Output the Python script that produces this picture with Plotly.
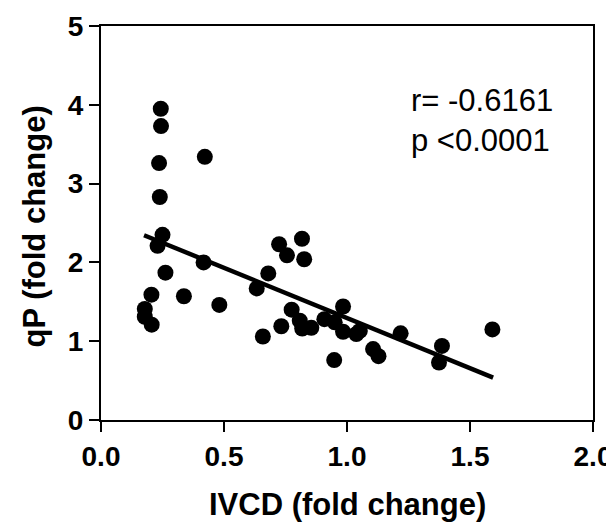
import numpy as np
import plotly.graph_objects as go

# IVCD vs qP, both as fold change
ivcd = [0.243, 0.244, 0.236, 0.422, 0.239, 0.250, 0.230, 0.262, 0.417, 0.205,
        0.337, 0.481, 0.178, 0.178, 0.206, 0.633, 0.680, 0.658, 0.724, 0.756,
        0.817, 0.826, 0.775, 0.733, 0.808, 0.818, 0.855, 0.908, 0.950, 0.984,
        0.984, 0.948, 1.038, 1.052, 1.106, 1.128, 1.218, 1.386, 1.374, 1.591]
qp = [3.95, 3.73, 3.26, 3.34, 2.83, 2.35, 2.21, 1.87, 2.00, 1.59,
      1.57, 1.46, 1.41, 1.31, 1.21, 1.67, 1.86, 1.06, 2.23, 2.09,
      2.30, 2.04, 1.40, 1.19, 1.26, 1.16, 1.17, 1.28, 1.24, 1.44,
      1.12, 0.76, 1.09, 1.13, 0.90, 0.81, 1.10, 0.94, 0.73, 1.15]

r_text = "r= -0.6161"
p_text = "p <0.0001"

x_ticks = [0.0, 0.5, 1.0, 1.5, 2.0]
y_ticks = [0, 1, 2, 3, 4, 5]

# linear regression over the data range
slope, intercept = np.polyfit(ivcd, qp, 1)
fit_x = np.array([min(ivcd) - 0.003, max(ivcd) + 0.003])
fit_y = slope * fit_x + intercept

fig = go.Figure()
fig.add_trace(go.Scatter(x=ivcd, y=qp, mode='markers',
                         marker=dict(color='black', size=16),
                         showlegend=False))
fig.add_trace(go.Scatter(x=fit_x, y=fit_y, mode='lines',
                         line=dict(color='black', width=4.5),
                         showlegend=False))

fig.add_annotation(x=0.626, y=0.761, xref='paper', yref='paper',
                   text=r_text + "<br>" + p_text, showarrow=False,
                   xanchor='left', yanchor='middle', align='left',
                   font=dict(family='Liberation Sans, Arial', size=31, color='black'))

axis_font = dict(family='Liberation Sans, Arial', size=28, color='black', weight='bold')
title_font = dict(family='Liberation Sans, Arial', size=31, color='black', weight='bold')

# axis titles as annotations so they sit exactly where the original has them
fig.add_annotation(x=0.5, y=-0.215, xref='paper', yref='paper',
                   text='IVCD (fold change)', showarrow=False,
                   xanchor='center', yanchor='middle', font=title_font)
fig.add_annotation(x=-0.135, y=0.49, xref='paper', yref='paper',
                   text='qP (fold change)', showarrow=False, textangle=-90,
                   xanchor='center', yanchor='middle', font=title_font)

fig.update_xaxes(range=[0, 2], tickvals=x_ticks, ticktext=[f'{v:.1f}' for v in x_ticks],
                 showgrid=False, zeroline=False, showline=True, linecolor='black',
                 linewidth=2, mirror=True, ticks='outside', ticklen=10, tickwidth=2,
                 tickcolor='black', tickfont=axis_font, automargin=False)
fig.update_yaxes(range=[0, 5], tickvals=y_ticks,
                 showgrid=False, zeroline=False, showline=True, linecolor='black',
                 linewidth=2, mirror=True, ticks='outside', ticklen=10, tickwidth=2,
                 tickcolor='black', tickfont=axis_font, automargin=False)

# the page body adds an 8px margin, so the figure is kept 8px smaller each way
fig.update_layout(width=606, height=514, plot_bgcolor='white', paper_bgcolor='white',
                  margin=dict(l=93, r=21, t=18, b=102))

fig.write_html("out.html")
